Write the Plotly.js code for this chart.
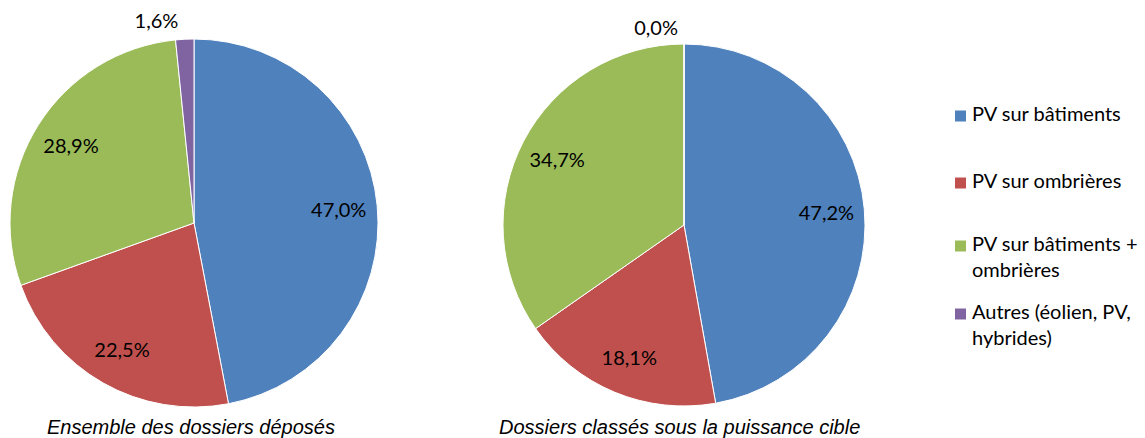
<!DOCTYPE html>
<html><head><meta charset="utf-8">
<script src="https://cdn.plot.ly/plotly-3.0.1.min.js"></script>
<style>html,body{margin:0;padding:0;background:#fff;overflow:hidden}</style>
</head><body><div id="chart" style="width:1145px;height:438px"></div>
<script>
// ---- data ----
const categories = ["PV sur bâtiments", "PV sur ombrières", "PV sur bâtiments + ombrières", "Autres (éolien, PV, hybrides)"];
const legendLabels = ["PV sur bâtiments", "PV sur ombrières", "PV sur bâtiments +<br>ombrières", "Autres (éolien, PV,<br>hybrides)"];
const valuesDeposes = [47.0, 22.5, 28.9, 1.6];
const valuesSousPuissance = [47.2, 18.1, 34.7, 0.0];
const pieCaptions = ["Ensemble des dossiers déposés", "Dossiers classés sous la puissance cible"];

// ---- style / layout ----
const colors = ["#4F81BD", "#C0504D", "#9BBB59", "#8064A2"];
const W = 1145, H = 438;
const px = x => x / W;
const py = y => 1 - y / H;
const labelFont = {family: "Lato, 'Open Sans', sans-serif", size: 20, color: "#000"};

// pie boxes in pixels: [left, top, right, bottom]
const boxes = [[10, 39, 378, 407], [503, 44, 865, 406]];
const outsideGrow = [7, 5];
const captionPos = [[191, 427], [679, 427]];
const legendRows = [116, 183, 246, 314];
const legendSquareX = [955, 966];
const legendTextX = 970;

const series = [valuesDeposes, valuesSousPuissance];
const data = [];
const transparent = categories.map(() => "rgba(0,0,0,0)");
series.forEach((vals, k) => {
  const b = boxes[k];
  const domain = {x: [px(b[0]), px(b[2])], y: [py(b[3]), py(b[1])]};
  const g = outsideGrow[k];
  const domainOut = {x: [px(b[0] - g), px(b[2] + g)], y: [py(b[3] + g), py(b[1] - g)]};
  data.push({
    type: "pie", labels: categories, values: vals, domain: domain,
    sort: false, direction: "clockwise", rotation: 0,
    marker: {colors: colors, line: {color: "#ffffff", width: 1}},
    textinfo: "none", hoverinfo: "label+percent", showlegend: false
  });
  // transparent ring used only to place the inside labels (at ~0.79 of the radius)
  data.push({
    type: "pie", labels: categories, values: vals, domain: domain,
    sort: false, direction: "clockwise", rotation: 0, hole: 0.58,
    marker: {colors: transparent, line: {width: 0}},
    texttemplate: "%{value:.1f}%",
    textposition: vals.map((v, i) => i === 3 ? "none" : "inside"),
    insidetextorientation: "horizontal",
    textfont: labelFont, insidetextfont: labelFont,
    hoverinfo: "skip", showlegend: false
  });
  // transparent pie used only to place the outside label of the small slice
  data.push({
    type: "pie", labels: categories, values: vals, domain: domainOut,
    sort: false, direction: "clockwise", rotation: 0,
    marker: {colors: transparent, line: {width: 0}},
    texttemplate: "%{value:.1f}%",
    textposition: vals.map((v, i) => i === 3 ? "outside" : "none"),
    textfont: labelFont, outsidetextfont: labelFont,
    hoverinfo: "skip", showlegend: false
  });
});

const annotations = [];
const shapes = [];
pieCaptions.forEach((c, k) => {
  annotations.push({
    xref: "paper", yref: "paper", x: px(captionPos[k][0]), y: py(captionPos[k][1]),
    xanchor: "center", yanchor: "middle", showarrow: false,
    text: "<i>" + c + "</i>",
    font: {family: "'Liberation Sans', Arial, sans-serif", size: 20, color: "#000"}
  });
});
legendLabels.forEach((t, i) => {
  const yc = legendRows[i];
  shapes.push({
    type: "rect", xref: "paper", yref: "paper",
    x0: px(legendSquareX[0]), x1: px(legendSquareX[1]),
    y0: py(yc + 5.5), y1: py(yc - 5.5),
    fillcolor: colors[i], line: {width: 0}
  });
  annotations.push({
    xref: "paper", yref: "paper", x: px(legendTextX), y: py(yc - 17),
    xanchor: "left", yanchor: "top", align: "left", showarrow: false,
    text: t, font: labelFont
  });
});

const layout = {
  width: W, height: H,
  margin: {l: 0, r: 0, t: 0, b: 0},
  paper_bgcolor: "#fff", plot_bgcolor: "#fff",
  separators: ", ",
  showlegend: false,
  annotations: annotations, shapes: shapes
};
Plotly.newPlot("chart", data, layout, {displayModeBar: false, staticPlot: true});
</script>
</body></html>
